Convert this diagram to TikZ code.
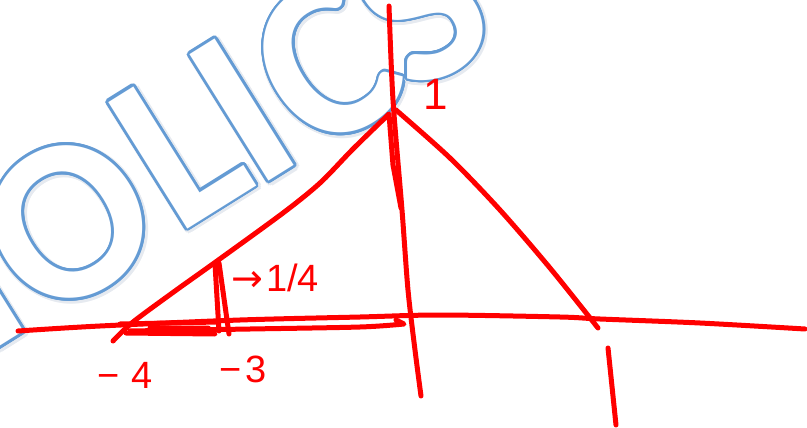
\documentclass[tikz,border=0pt]{standalone}
\usepackage{fontspec}
\setmainfont{Liberation Sans}
\newfontfamily\wmfont{Carlito}
\newfontfamily\symfont{DejaVu Sans}
\definecolor{ink}{RGB}{255,0,0}
\definecolor{wmblue}{RGB}{100,155,212}
\definecolor{wmshade}{RGB}{230,234,240}
\begin{document}
\begin{tikzpicture}[x=1pt,y=-1pt,
  ink/.style={draw=ink, line width=5pt, line cap=round, line join=round},
  lab/.style={text=ink, inner sep=0pt, font=\fontsize{38}{38}\selectfont},
  wm/.style={inner sep=0pt, rotate=32, font=\wmfont\bfseries\fontsize{230}{230}\selectfont}]
\useasboundingbox (0,0) rectangle (807,428);
% watermark
\begin{scope}
\clip (0,0) rectangle (807,428);
\foreach \n/\x/\y in {H/-66/300, O/68/222, L/179/146, I/242/110, C/326/63, S/420/4} {
  \foreach \a in {0,30,...,330}
    \node[wm,text=wmshade] (s\n\a) at ([shift={(\a:4pt)}]\x+1.5,\y+1.5) {\n};
  \foreach \a in {0,15,...,345}
    \node[wm,text=wmblue] (c\n\a) at ([shift={(\a:2.6pt)}]\x,\y) {\n};
  \node[wm,text=white] (w\n) at (\x,\y) {\n};
}
\end{scope}
% axes
\draw[ink] plot[smooth] coordinates {(18,331) (100,326) (240,320) (360,317) (440,315) (560,317) (600,319) (700,323) (805,329)};
\draw[ink] plot[smooth] coordinates {(389,6) (393,100) (402,210) (408,290) (415,350) (421,396)};
% triangle sides
\draw[ink] plot[smooth] coordinates {(113,341) (133,322) (175,291) (217,261) (283,213) (320,183) (353,149) (389,114)} -- (393,165) -- (401,208);
\draw[ink] plot[smooth] coordinates {(396,110) (450,158) (500,210) (550,268) (598,328)};
% short vertical at -3
\draw[ink] (215,264) -- (219,331);
\draw[ink] (219,263) -- (229,334);
% bottom arrow and scribbles
\draw[ink] plot[smooth] coordinates {(130,331) (250,329) (360,327) (404,324)} -- (396,320);
\draw[ink] (120,324) -- (218,322);
\draw[ink] (126,333) -- (215,334) -- (208,328) -- (150,328);
% tick at 1
\draw[ink] (608,348) -- (616,425);
% labels
\node[lab] (m4) at (125,375) {−\kern12pt4};
\node[lab] (m3) at (243,369) {−\kern4pt3};
\node[lab] (q) at (275,278) {{\symfont →}\kern3pt1/4};
\node[lab, font=\fontsize{44}{44}\selectfont] (one) at (436,94) {1};
\end{tikzpicture}
\end{document}
